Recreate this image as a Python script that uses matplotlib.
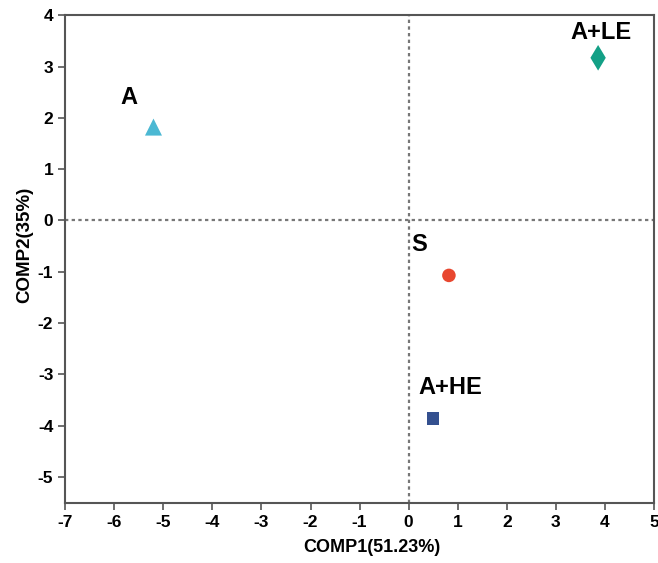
import matplotlib
matplotlib.use('Agg')
import matplotlib.pyplot as plt

# --- data ---
groups = ['A', 'A+LE', 'S', 'A+HE']
comp1 = [-5.2, 3.86, 0.82, 0.5]
comp2 = [1.82, 3.17, -1.07, -3.86]
markers = ['^', 'd', 'o', 's']
colors = ['#4BB8D3', '#13A086', '#E8472F', '#34508F']
sizes = [150, 170, 95, 80]
# label offsets (data units) relative to the point
label_dx = [-0.5, 0.06, -0.6, 0.34]
label_dy = [0.57, 0.5, 0.6, 0.6]

plt.rcParams['font.family'] = ['Liberation Sans', 'DejaVu Sans']
plt.rcParams['axes.unicode_minus'] = False

fig = plt.figure(figsize=(6.58, 5.63), dpi=100)
ax = fig.add_axes([0.099, 0.107, 0.895, 0.866])

ax.axvline(0, color='#777777', linestyle=(0, (1.5, 1.5)), linewidth=1.6, zorder=1)
ax.axhline(0, color='#777777', linestyle=(0, (1.5, 1.5)), linewidth=1.6, zorder=1)

for x, y, m, c, s, g, dx, dy in zip(comp1, comp2, markers, colors, sizes,
                                      groups, label_dx, label_dy):
    ax.scatter(x, y, marker=m, color=c, s=s, edgecolors='none', zorder=3)
    ax.text(x + dx, y + dy, g, fontsize=17, fontweight='bold',
            ha='center', va='center', color='black')

ax.set_xlim(-7, 5)
ax.set_ylim(-5.5, 4)
ax.set_xticks(range(-7, 6))
ax.set_yticks(range(-5, 5))

for sp in ax.spines.values():
    sp.set_color('#555555')
    sp.set_linewidth(1.5)
ax.tick_params(colors='#555555', width=1.2, length=5, labelcolor='black',
               labelsize=12.5)
for lab in ax.get_xticklabels() + ax.get_yticklabels():
    lab.set_fontweight('bold')

ax.set_xlabel('COMP1(51.23%)', fontsize=13, fontweight='bold')
ax.set_ylabel('COMP2(35%)', fontsize=13.5, fontweight='bold')
ax.xaxis.set_label_coords(0.52, -0.092)
ax.yaxis.set_label_coords(-0.068, 0.529)
ax.xaxis.label.set_va('center')
ax.yaxis.label.set_va('center')

fig.savefig('out.png', dpi=100)
